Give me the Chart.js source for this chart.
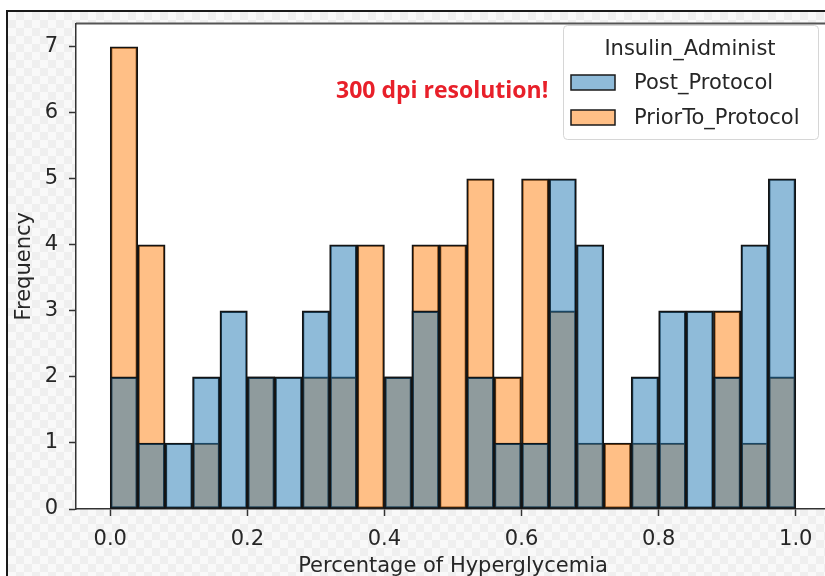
<!DOCTYPE html>
<html>
<head>
<meta charset="utf-8">
<script src="https://cdn.jsdelivr.net/npm/chart.js@4.4.0/dist/chart.umd.min.js"></script>
<style>
  html, body { margin: 0; padding: 0; background: #fff; overflow: hidden; }
  #wrap { width: 840px; height: 576px; }
</style>
</head>
<body>
<div id="wrap"><canvas id="HistChart" width="840" height="576"></canvas></div>
<script>
// histogram bins (center of each 0.04 wide bin)
var binCenters = [0.02, 0.06, 0.10, 0.14, 0.18, 0.22, 0.26, 0.30, 0.34, 0.38, 0.42, 0.46, 0.50,
                  0.54, 0.58, 0.62, 0.66, 0.70, 0.74, 0.78, 0.82, 0.86, 0.90, 0.94, 0.98];
var postProtocol  = [2, 1, 1, 2, 3, 2, 2, 3, 4, 0, 2, 3, 0, 2, 1, 1, 5, 4, 0, 2, 3, 3, 2, 4, 5];
var priorProtocol = [7, 4, 0, 1, 0, 2, 0, 2, 2, 4, 2, 4, 4, 5, 2, 5, 3, 1, 1, 1, 1, 0, 3, 1, 2];
var xTicks = [0.0, 0.2, 0.4, 0.6, 0.8, 1.0];
var yTicks = [0, 1, 2, 3, 4, 5, 6, 7];
var seriesNames = ['Post_Protocol', 'PriorTo_Protocol'];
var legendTitle = 'Insulin_Administ';
var noteText = '300 dpi resolution!';

var FONT = 'DejaVu Sans';
var TXT = '#262626';

function toPoints(vals) {
    return binCenters.map(function (c, i) { return { x: c, y: vals[i] }; });
}

// screenshot backdrop, spines, legend box and the red note
var decor = {
    id: 'decor',
    beforeDraw: function (chart) {
        var ctx = chart.ctx, a = chart.chartArea;
        ctx.save();
        ctx.fillStyle = '#ffffff';
        ctx.fillRect(0, 0, chart.width, chart.height);
        for (var y = 12; y < chart.height; y += 8) {
            for (var x = 8; x < chart.width; x += 8) {
                ctx.fillStyle = (((x - 8) / 8 + (y - 12) / 8) % 2) ? '#efefef' : '#f9f9f9';
                ctx.fillRect(x, y, 8, 8);
            }
        }
        ctx.fillStyle = '#ffffff';
        ctx.fillRect(a.left, a.top, a.right - a.left, a.bottom - a.top);
        ctx.strokeStyle = '#1a1a1a';
        ctx.lineWidth = 2;
        ctx.beginPath();
        ctx.moveTo(7, chart.height); ctx.lineTo(7, 11); ctx.lineTo(chart.width, 11);
        ctx.stroke();
        ctx.strokeStyle = '#555555';
        ctx.beginPath();
        ctx.moveTo(a.left, a.top); ctx.lineTo(a.right, a.top);
        ctx.stroke();
        ctx.restore();
    },
    afterDraw: function (chart) {
        var ctx = chart.ctx;
        ctx.save();
        // legend
        ctx.beginPath();
        ctx.roundRect(563.5, 25.5, 255, 114, 4);
        ctx.fillStyle = 'rgba(255,255,255,0.8)';
        ctx.fill();
        ctx.strokeStyle = '#d6d6d6';
        ctx.lineWidth = 1;
        ctx.stroke();
        ctx.font = '21px "' + FONT + '"';
        ctx.fillStyle = TXT;
        ctx.textAlign = 'center';
        ctx.textBaseline = 'middle';
        ctx.fillText(legendTitle, 690, 50);
        ctx.textAlign = 'left';
        var rows = [83, 118];
        chart.data.datasets.forEach(function (ds, i) {
            ctx.fillStyle = '#ffffff';
            ctx.fillRect(571, rows[i] - 8, 44, 15);
            ctx.fillStyle = ds.backgroundColor;
            ctx.fillRect(571, rows[i] - 8, 44, 15);
            ctx.strokeStyle = '#1a1a1a';
            ctx.lineWidth = 1.5;
            ctx.strokeRect(571, rows[i] - 8, 44, 15);
            ctx.fillStyle = TXT;
            ctx.fillText(ds.label, 634, rows[i] + 1);
        });
        // red note
        ctx.font = 'bold 23px "Open Sans"';
        ctx.fillStyle = '#e8202a';
        ctx.fillText(noteText, 336, 91);
        ctx.restore();
    }
};

var ctx = document.getElementById('HistChart').getContext('2d');
var data = {
    datasets: [{
        label: seriesNames[0],
        data: toPoints(postProtocol),
        backgroundColor: 'rgba(31, 119, 180, 0.5)'
    }, {
        label: seriesNames[1],
        data: toPoints(priorProtocol),
        backgroundColor: 'rgba(255, 127, 14, 0.5)'
    }]
};
data.datasets.forEach(function (ds) {
    ds.borderColor = '#141414';
    ds.borderWidth = 1.7;
    ds.borderSkipped = false;
    ds.barPercentage = 1;
    ds.categoryPercentage = 1;
    ds.grouped = false;
});

var myHistChart = new Chart(ctx, {
    type: 'bar',
    data: data,
    plugins: [decor],
    options: {
        responsive: false,
        animation: false,
        layout: { padding: { left: 0, top: 15, right: 10, bottom: 0 } },
        plugins: { legend: { display: false }, tooltip: { enabled: false } },
        scales: {
            x: {
                type: 'linear',
                min: -0.05,
                max: 1.05,
                offset: false,
                afterBuildTicks: function (s) { s.ticks = xTicks.map(function (v) { return { value: v }; }); },
                afterFit: function (s) { s.height = 67; },
                ticks: {
                    callback: function (v) { return Number(v).toFixed(1); },
                    font: { family: FONT, size: 21 },
                    color: TXT,
                    padding: 11,
                    maxRotation: 0,
                    autoSkip: false
                },
                grid: { display: true, offset: false, drawOnChartArea: false, drawTicks: true,
                        tickLength: 7, tickColor: '#333333', tickWidth: 1.5 },
                border: { display: true, color: '#333333', width: 1.5 },
                title: { display: true, text: 'Percentage of Hyperglycemia', color: TXT,
                         font: { family: FONT, size: 21, lineHeight: 1 }, padding: { top: 0, bottom: -1 } }
            },
            y: {
                min: 0,
                max: 7.35,
                afterBuildTicks: function (s) { s.ticks = yTicks.map(function (v) { return { value: v }; }); },
                afterFit: function (s) { s.width = 76; },
                ticks: { font: { family: FONT, size: 21 }, color: TXT, padding: 11 },
                grid: { display: true, drawOnChartArea: false, drawTicks: true,
                        tickLength: 7, tickColor: '#333333', tickWidth: 1.5 },
                border: { display: true, color: '#333333', width: 1.5 },
                title: { display: true, text: 'Frequency', color: TXT,
                         font: { family: FONT, size: 21, lineHeight: 1 }, padding: { top: 14, bottom: 0 } }
            }
        }
    }
});
</script>
</body>
</html>
